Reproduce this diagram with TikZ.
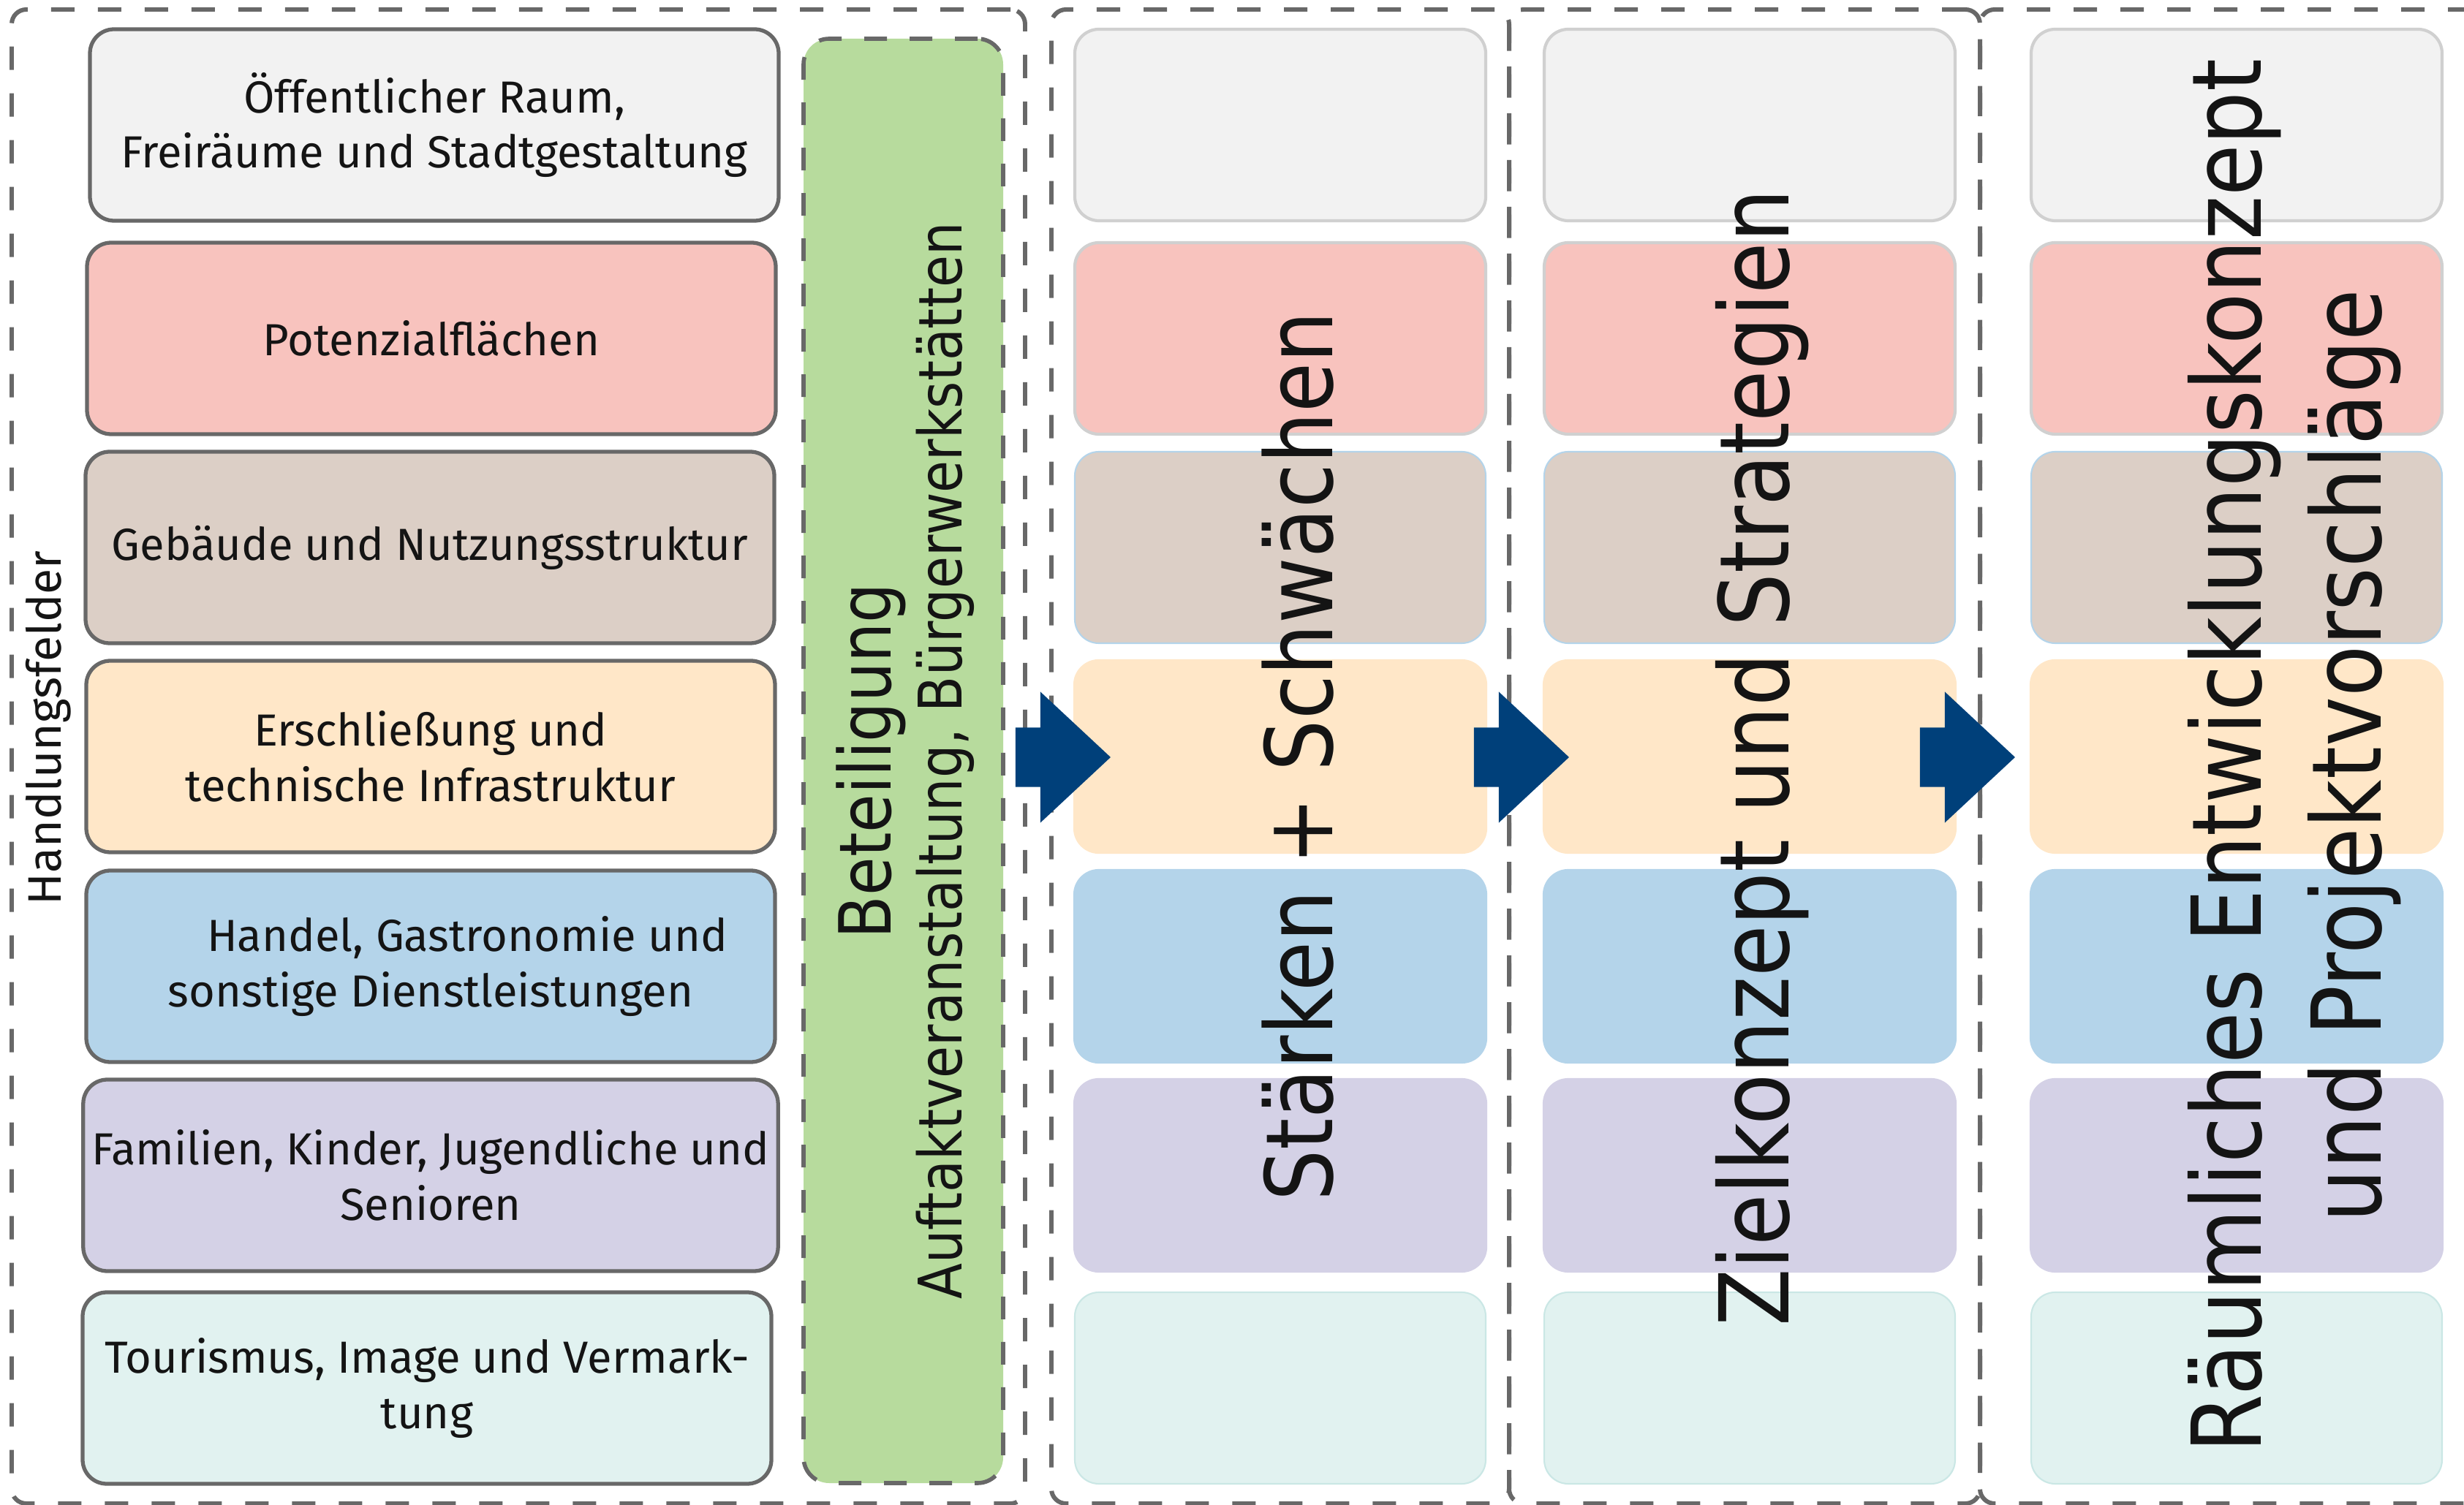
\documentclass[tikz,border=0pt]{standalone}
\usepackage{fontspec}
\setmainfont{Fira Sans}
\newfontfamily\vfont[FakeStretch=0.87]{DejaVu Sans}
\usepackage{tikz}
\usetikzlibrary{shapes.arrows}

\definecolor{framegray}{RGB}{104,104,104}
\definecolor{rimgray}{RGB}{208,208,208}
\definecolor{txt}{RGB}{20,20,20}
\definecolor{rowa}{RGB}{242,242,242}
\definecolor{rowb}{RGB}{248,195,190}
\definecolor{rowc}{RGB}{220,207,198}
\definecolor{rowd}{RGB}{255,231,200}
\definecolor{rowe}{RGB}{180,212,234}
\definecolor{rowf}{RGB}{212,209,230}
\definecolor{rowg}{RGB}{225,242,240}
\definecolor{beteil}{RGB}{183,219,157}
\definecolor{arrowblue}{RGB}{0,64,122}

\begin{document}
\begin{tikzpicture}[
  dashframe/.style={draw=framegray,line width=1.7pt,dash pattern=on 0.32cm off 0.32cm,rounded corners=0.2cm},
  lbox/.style={draw=framegray,line width=1.5pt,rounded corners=0.33cm,minimum width=9.42cm,minimum height=2.62cm,align=center,text=txt,font=\fontsize{17.5}{21.5}\selectfont},
  rbox/.style={line width=1.2pt,rounded corners=0.33cm,minimum width=5.62cm,minimum height=2.62cm},
  rowA/.style={fill=rowa,draw=rimgray},
  rowB/.style={fill=rowb,draw=rimgray},
  rowC/.style={fill=rowc,draw=rowe,line width=0.6pt},
  rowD/.style={fill=rowd,draw=rowd},
  rowE/.style={fill=rowe,draw=rowe},
  rowF/.style={fill=rowf,draw=rowf},
  rowG/.style={fill=rowg,draw=rowg!90!teal,line width=0.6pt},
  vtext/.style={rotate=90,anchor=base,text=txt,inner sep=0pt},
  bigtext/.style={vtext,font=\vfont\fontsize{37.5}{45}\selectfont},
  flowarrow/.style={single arrow,fill=arrowblue,inner xsep=0pt,inner ysep=0.4cm,minimum height=1.3cm,minimum width=1.78cm,single arrow head extend=0.49cm,single arrow tip angle=86,anchor=tip}
]
\useasboundingbox (0,0) rectangle (33.70,-20.59);

\draw (7.09,-10.35)  node (fr1) [dashframe,minimum width=13.86cm,minimum height=20.44cm] {};
\draw (17.51,-10.35) node (fr2) [dashframe,minimum width=6.26cm,minimum height=20.44cm] {};
\draw (23.86,-10.35) node (fr3) [dashframe,minimum width=6.44cm,minimum height=20.44cm] {};
\draw (30.54,-10.35) node (fr4) [dashframe,minimum width=6.92cm,minimum height=20.44cm] {};

\draw (5.94,-1.71)  node (hf1) [lbox,fill=rowa] {Öffentlicher Raum,\\Freiräume und Stadtgestaltung};
\draw (5.90,-4.63)  node (hf2) [lbox,fill=rowb] {Potenzialflächen};
\draw (5.88,-7.49)  node (hf3) [lbox,fill=rowc] {Gebäude und Nutzungsstruktur};
\draw (5.89,-10.35) node (hf4) [lbox,fill=rowd] {Erschließung und\\technische Infrastruktur};
\draw (5.89,-13.22) node (hf5) [lbox,fill=rowe] {\hspace*{1cm}Handel, Gastronomie und\\sonstige Dienstleistungen};
\draw (5.89,-16.08) node (hf6) [lbox,fill=rowf] {Familien, Kinder, Jugendliche und\\Senioren};
\draw (5.84,-18.99) node (hf7) [lbox,fill=rowg] {Tourismus, Image und Vermark-\\tung};

\draw (12.355,-10.41) node (bt) [draw=framegray,fill=beteil,line width=1.6pt,dash pattern=on 0.31cm off 0.31cm,rounded corners=0.35cm,minimum width=2.73cm,minimum height=19.76cm] {};

\draw (17.51,-1.71)  node (sw1) [rbox,rowA] {};
\draw (17.51,-4.63)  node (sw2) [rbox,rowB] {};
\draw (17.51,-7.49)  node (sw3) [rbox,rowC] {};
\draw (17.51,-10.35) node (sw4) [rbox,rowD] {};
\draw (17.51,-13.22) node (sw5) [rbox,rowE] {};
\draw (17.51,-16.08) node (sw6) [rbox,rowF] {};
\draw (17.51,-18.99) node (sw7) [rbox,rowG] {};

\draw (23.93,-1.71)  node (zk1) [rbox,rowA] {};
\draw (23.93,-4.63)  node (zk2) [rbox,rowB] {};
\draw (23.93,-7.49)  node (zk3) [rbox,rowC] {};
\draw (23.93,-10.35) node (zk4) [rbox,rowD] {};
\draw (23.93,-13.22) node (zk5) [rbox,rowE] {};
\draw (23.93,-16.08) node (zk6) [rbox,rowF] {};
\draw (23.93,-18.99) node (zk7) [rbox,rowG] {};

\draw (30.59,-1.71)  node (ek1) [rbox,rowA] {};
\draw (30.59,-4.63)  node (ek2) [rbox,rowB] {};
\draw (30.59,-7.49)  node (ek3) [rbox,rowC] {};
\draw (30.59,-10.35) node (ek4) [rbox,rowD] {};
\draw (30.59,-13.22) node (ek5) [rbox,rowE] {};
\draw (30.59,-16.08) node (ek6) [rbox,rowF] {};
\draw (30.59,-18.99) node (ek7) [rbox,rowG] {};

\draw (0.83,-9.96)   node (hlabel) [vtext,font=\fontsize{18.3}{22}\selectfont] {Handlungsfelder};
\draw (12.18,-10.41) node (bt1) [vtext,font=\vfont\fontsize{28}{33}\selectfont] {Beteiligung};
\draw (13.15,-10.41) node (bt2) [vtext,font=\vfont\fontsize{23.4}{28}\selectfont] {Auftaktveranstaltung, Bürgerwerkstätten};
\draw (18.22,-10.35) node (swt) [bigtext,font=\vfont\fontsize{36.2}{44}\selectfont] {Stärken + Schwächen};
\draw (24.46,-10.37) node (zkt) [bigtext] {Zielkonzept und Strategien};
\draw (30.92,-10.34) node (ekt1) [bigtext] {Räumliches Entwicklungskonzept};
\draw (32.56,-10.34) node (ekt2) [bigtext] {und Projektvorschläge};

\draw (15.20,-10.36) node (p1) [flowarrow] {};
\draw (21.47,-10.36) node (p2) [flowarrow] {};
\draw (27.57,-10.36) node (p3) [flowarrow] {};

\end{tikzpicture}
\end{document}
